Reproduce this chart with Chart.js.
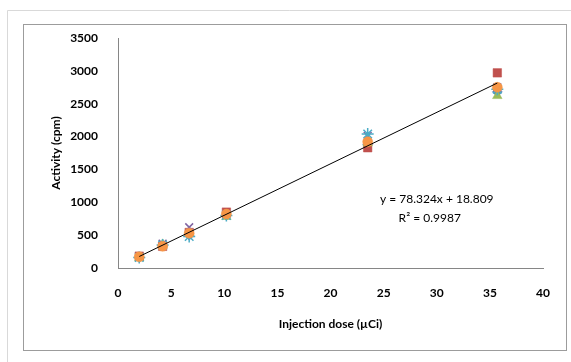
<!DOCTYPE html>
<html>
<head>
<meta charset="utf-8">
<script src="https://cdn.jsdelivr.net/npm/chart.js@4.4.1/dist/chart.umd.min.js"></script>
<style>
  html, body { margin: 0; padding: 0; background: #ffffff; }
  #wrap { width: 571px; height: 362px; position: relative; }
</style>
</head>
<body>
<div id="wrap"><canvas id="c"></canvas></div>
<script>
// Injection dose (µCi) for each measurement group
const doses = [2.0, 4.2, 6.7, 10.2, 23.5, 35.7];

// Measured activity (cpm), one array per animal
const mouse1 = [160, 340, 500, 800, 1880, 2680];
const mouse2 = [180, 330, 540, 850, 1830, 2970];
const mouse3 = [150, 360, 520, 780, 1900, 2620];
const mouse4 = [170, 370, 620, 820, 2010, 2750];
const mouse5 = [160, 350, 480, 800, 2040, 2720];
const mouse6 = [170, 330, 530, 820, 1920, 2750];

// Linear fit shown on the chart
const slope = 78.324;
const intercept = 18.809;
const r2 = 0.9987;
const eqLine1 = 'y = 78.324x + 18.809';
const eqLine2 = 'R\u00B2 = 0.9987';

const yTicks = [0, 500, 1000, 1500, 2000, 2500, 3000, 3500];
const xTicks = [0, 5, 10, 15, 20, 25, 30, 35, 40];

const pts = arr => doses.map((d, i) => ({ x: d, y: arr[i] }));
const xMin = Math.min(...doses), xMax = Math.max(...doses);
const trend = [
  { x: xMin, y: slope * xMin + intercept },
  { x: xMax, y: slope * xMax + intercept }
];

const FONT = 'Lato, "Open Sans", sans-serif';

function series(data, style, color, radius, order, fill) {
  return {
    type: 'scatter',
    data: pts(data),
    pointStyle: style,
    pointRadius: radius,
    pointHoverRadius: radius,
    pointBackgroundColor: fill ? color : 'transparent',
    pointBorderColor: color,
    pointBorderWidth: fill ? 0.5 : 1.5,
    showLine: false,
    order: order
  };
}

const frame = {
  id: 'frame',
  beforeDraw(chart) {
    const ctx = chart.ctx;
    ctx.save();
    ctx.fillStyle = '#ffffff';
    ctx.fillRect(0, 0, chart.width, chart.height);
    // outer light frame
    ctx.strokeStyle = '#d9d9d9';
    ctx.lineWidth = 1;
    ctx.beginPath();
    ctx.moveTo(7.5, chart.height);
    ctx.lineTo(7.5, 10.5);
    ctx.lineTo(chart.width, 10.5);
    ctx.stroke();
    // chart border
    ctx.strokeStyle = '#9c9c9c';
    ctx.strokeRect(23.5, 24.5, 543, 326);
    ctx.restore();
  },
  afterDatasetsDraw(chart) {
    const ctx = chart.ctx;
    const xs = chart.scales.x, ys = chart.scales.y;
    const px = xs.getPixelForValue(30);
    const py = ys.getPixelForValue(1050);
    ctx.save();
    ctx.fillStyle = '#000000';
    ctx.font = '12px ' + FONT;
    ctx.textAlign = 'center';
    ctx.textBaseline = 'middle';
    ctx.fillText(eqLine1, px, py);
    ctx.fillText(eqLine2, px - 7, py + 19);
    ctx.restore();
  }
};

new Chart(document.getElementById('c'), {
  type: 'scatter',
  data: {
    datasets: [
      {
        type: 'line',
        data: trend,
        borderColor: '#000000',
        borderWidth: 1,
        pointRadius: 0,
        fill: false,
        order: 0
      },
      series(mouse6, 'circle', '#F79646', 5, 1, true),
      series(mouse5, 'star', '#4BACC6', 6, 2, false),
      series(mouse4, 'crossRot', '#8064A2', 5.5, 3, false),
      series(mouse3, 'triangle', '#9BBB59', 5.5, 4, true),
      series(mouse2, 'rect', '#C0504D', 6, 5, true),
      series(mouse1, 'rectRot', '#4F81BD', 5, 6, true)
    ]
  },
  options: {
    responsive: true,
    maintainAspectRatio: false,
    animation: false,
    events: [],
    layout: { padding: { left: 0, right: 28, top: 38, bottom: 0 } },
    plugins: { legend: { display: false }, tooltip: { enabled: false } },
    scales: {
      x: {
        type: 'linear',
        min: 0, max: 40,
        afterBuildTicks: s => { s.ticks = xTicks.map(v => ({ value: v })); },
        afterFit: s => { s.height = 94; },
        grid: { display: false },
        border: { display: true, color: '#868686', width: 1 },
        ticks: { color: '#000000', font: { family: FONT, size: 12, weight: 'bold' }, padding: 10, maxRotation: 0, callback: v => String(v) },
        title: { display: true, text: 'Injection dose (\u00B5Ci)', color: '#000000', font: { family: FONT, size: 12, weight: 'bold' }, padding: { top: 4, bottom: 31 } }
      },
      y: {
        type: 'linear',
        min: 0, max: 3500,
        afterBuildTicks: s => { s.ticks = yTicks.map(v => ({ value: v })); },
        afterFit: s => { s.width = 118; },
        grid: { display: false },
        border: { display: true, color: '#868686', width: 1 },
        ticks: { color: '#000000', font: { family: FONT, size: 12, weight: 'bold' }, padding: 12, callback: v => String(v) },
        title: { display: true, text: 'Activity (cpm)', color: '#000000', font: { family: FONT, size: 12, weight: 'bold' }, padding: { top: 49, bottom: 0 } }
      }
    }
  },
  plugins: [frame]
});
</script>
</body>
</html>
